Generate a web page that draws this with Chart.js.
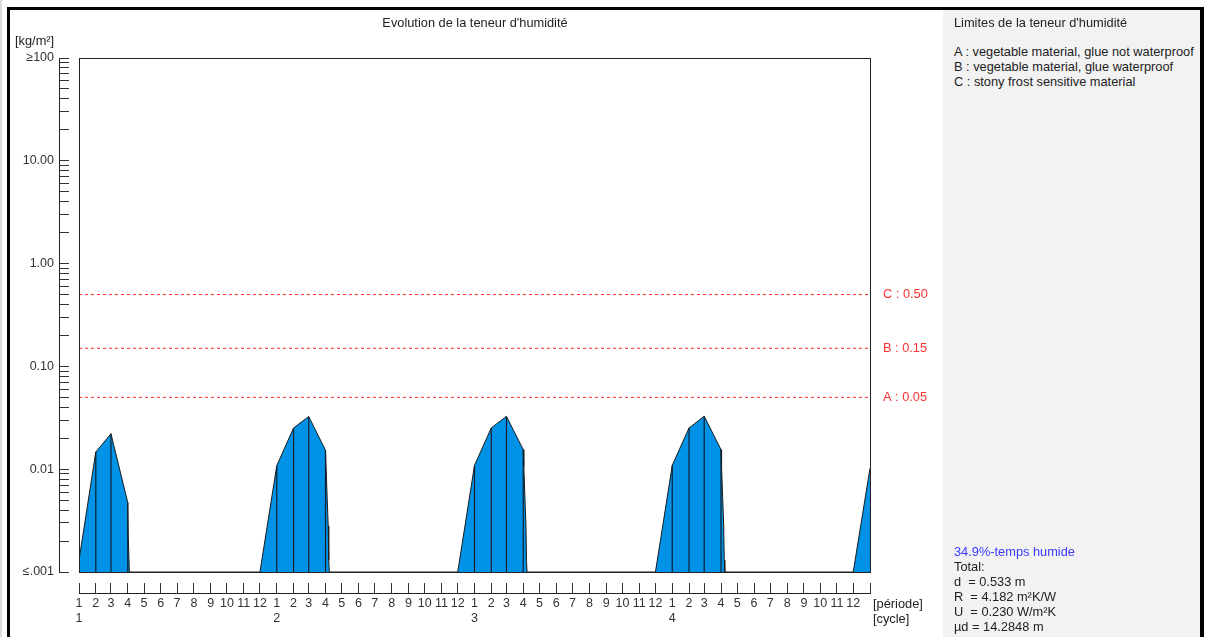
<!DOCTYPE html>
<html>
<head>
<meta charset="utf-8">
<script src="https://cdn.jsdelivr.net/npm/chart.js@4/dist/chart.umd.min.js"></script>
<style>
    body { margin: 0; background: #fff; }
    #wrap { position: relative; width: 1208px; height: 637px; overflow: hidden; background: #fff;
            font-family: 'Liberation Sans', Arial, sans-serif; font-size: 12.8px; color: #222; }
    #edge { position: absolute; left: 0; top: 0; width: 2px; height: 637px; background: #dcdcdc; }
    #frame { position: absolute; left: 7px; top: 7px; width: 1197px; height: 660px; box-sizing: border-box;
             border: 3px solid #000; border-right-width: 4px; }
    #panel { position: absolute; left: 943px; top: 10px; width: 257px; height: 627px; background: #f2f2f2; }
    #chartBox { position: absolute; left: 10px; top: 10px; width: 932px; height: 627px; }
    .txt { position: absolute; white-space: pre; line-height: 15px; }
    .blue { color: #3a3aff; }
</style>
</head>
<body>
<div id="wrap">
    <div id="edge"></div>
    <div id="panel"></div>
    <div id="frame"></div>
    <div id="chartBox"><canvas id="humidityChart" width="932" height="627"></canvas></div>
    <div class="txt" id="title" style="left:80px;width:790px;text-align:center;top:15px;">Evolution de la teneur d'humidité</div>
    <div class="txt" style="left:15px;top:33px;">[kg/m²]</div>
    <div class="txt" style="left:873px;top:596px;">[période]<br>[cycle]</div>
    <div class="txt" style="left:954px;top:15px;">Limites de la teneur d'humidité</div>
    <div class="txt" style="left:954px;top:44px;">A : vegetable material, glue not waterproof<br>B : vegetable material, glue waterproof<br>C : stony frost sensitive material</div>
    <div class="txt" style="left:954px;top:544px;"><span class="blue">34.9%-temps humide</span><br>Total:<br>d  = 0.533 m<br>R  = 4.182 m²K/W<br>U  = 0.230 W/m²K<br>µd = 14.2848 m</div>
</div>
<script>
// Axis data
const periodLabels = ['1', '2', '3', '4', '5', '6', '7', '8', '9', '10', '11', '12'];
const cycleLabels = ['1', '2', '3', '4'];
const monthStartDays = [0, 31, 59, 90, 120, 151, 181, 212, 243, 273, 304, 334];
const CYCLE_DAYS = 365;
const yLabelValues = [0.001, 0.01, 0.1, 1, 10, 100];
const yLabelTexts = ['≤.001', '0.01', '0.10', '1.00', '10.00', '≥100'];

// Moisture content [kg/m²] (day, value)
const moistureDays = [
    0, 31, 59, 90, 91, 93, 334,
    365, 396, 424, 455, 456, 458, 460, 461, 462, 699,
    730, 761, 789, 820, 821, 823, 825, 826, 827, 1064,
    1095, 1126, 1154, 1185, 1186, 1188, 1190, 1191, 1192, 1429,
    1460
];
const moistureValues = [
    0.0013, 0.0147, 0.0221, 0.00474, 0.0021, 0.001, 0.001,
    0.0108, 0.0252, 0.0325, 0.0153, 0.0106, 0.0054, 0.0028, 0.0013, 0.001, 0.001,
    0.0109, 0.0252, 0.0327, 0.0155, 0.0106, 0.0054, 0.0028, 0.0013, 0.001, 0.001,
    0.0109, 0.0252, 0.0327, 0.0155, 0.0106, 0.0054, 0.0028, 0.0013, 0.001, 0.001,
    0.0102
];

// Moisture limits
const limitNames = ['A', 'B', 'C'];
const limitValues = [0.05, 0.15, 0.50];

const FLOOR = 0.001;
const TOTAL_DAYS = CYCLE_DAYS * cycleLabels.length;
const FONT = '"Liberation Sans", Arial, sans-serif';

// Vertical marks at each period start where the area is above the floor
function buildPeriodMarks() {
    const marks = [];
    cycleLabels.forEach((c, ci) => {
        monthStartDays.forEach(d => {
            const day = ci * CYCLE_DAYS + d;
            const idx = moistureDays.indexOf(day);
            if (idx >= 0 && moistureValues[idx] > FLOOR) {
                marks.push({ x: day, y: FLOOR }, { x: day, y: moistureValues[idx] }, { x: day, y: null });
            }
        });
    });
    return marks;
}

// Frame, offset axis lines and limit labels
const framePlugin = {
    id: 'framePlugin',
    afterDatasetsDraw(chart) {
        const { ctx, chartArea: a, scales } = chart;
        ctx.save();
        ctx.strokeStyle = '#222';
        ctx.lineWidth = 1;
        ctx.strokeRect(Math.round(a.left) + 0.5, Math.round(a.top) + 0.5,
            Math.round(a.right - a.left), Math.round(a.bottom - a.top));
        ctx.beginPath();
        ctx.moveTo(Math.round(a.left) - 19.5, Math.round(a.top));
        ctx.lineTo(Math.round(a.left) - 19.5, Math.round(a.bottom) + 1);
        ctx.moveTo(Math.round(a.left), Math.round(a.bottom) + 21.5);
        ctx.lineTo(Math.round(a.right) + 1, Math.round(a.bottom) + 21.5);
        ctx.stroke();

        ctx.fillStyle = '#ff3030';
        ctx.font = '12.8px ' + FONT;
        ctx.textBaseline = 'middle';
        limitValues.forEach((v, i) => {
            const y = scales.y.getPixelForValue(v);
            ctx.fillText(limitNames[i] + ' : ' + v.toFixed(2), a.right + 13, y);
        });
        ctx.restore();
    }
};

function buildChart() {
    const datasets = [
        {
            data: moistureDays.map((d, i) => ({ x: d, y: moistureValues[i] })),
            borderColor: '#1a1a1a',
            borderWidth: 1,
            backgroundColor: '#0092E6',
            fill: 'start',
            pointRadius: 0,
            tension: 0,
            order: 10
        },
        {
            data: buildPeriodMarks(),
            borderColor: '#10202e',
            borderWidth: 1.2,
            fill: false,
            pointRadius: 0,
            spanGaps: false,
            order: 1
        }
    ];
    limitValues.forEach(v => {
        datasets.push({
            data: [{ x: 0, y: v }, { x: TOTAL_DAYS, y: v }],
            borderColor: '#ff2a2a',
            borderWidth: 1,
            borderDash: [3, 3],
            fill: false,
            pointRadius: 0,
            order: 1
        });
    });

    new Chart(document.getElementById('humidityChart').getContext('2d'), {
        type: 'line',
        data: { datasets },
        options: {
            responsive: false,
            animation: false,
            layout: { padding: { left: 10, top: 48, right: 72, bottom: 10 } },
            plugins: { legend: { display: false }, tooltip: { enabled: false } },
            scales: {
                x: {
                    type: 'linear',
                    min: 0,
                    max: TOTAL_DAYS,
                    afterFit: s => { s.height = 55; },
                    afterBuildTicks: s => {
                        const t = [];
                        cycleLabels.forEach((c, ci) => monthStartDays.forEach(d => t.push({ value: ci * CYCLE_DAYS + d })));
                        t.push({ value: TOTAL_DAYS });
                        s.ticks = t;
                    },
                    border: { display: false },
                    grid: {
                        drawOnChartArea: false,
                        tickLength: 21,
                        tickBorderDash: [0, 11, 10, 100],
                        tickColor: '#333',
                        tickWidth: 1
                    },
                    ticks: {
                        autoSkip: false,
                        maxRotation: 0,
                        minRotation: 0,
                        padding: 3,
                        color: '#333',
                        font: { family: FONT, size: 12.5, lineHeight: 1.2 },
                        callback: (v, i) => {
                            if (i >= periodLabels.length * cycleLabels.length) return '';
                            const p = i % periodLabels.length;
                            const c = Math.floor(i / periodLabels.length);
                            return p === 0 ? [periodLabels[p], cycleLabels[c]] : periodLabels[p];
                        }
                    }
                },
                y: {
                    type: 'logarithmic',
                    min: 0.001,
                    max: 100,
                    afterFit: s => { s.width = 59; },
                    afterBuildTicks: s => {
                        const t = [];
                        for (let e = -3; e < 2; e++) {
                            for (let m = 1; m < 10; m++) t.push({ value: m * Math.pow(10, e) });
                        }
                        t.push({ value: 100 });
                        s.ticks = t;
                    },
                    border: { display: false },
                    grid: {
                        drawOnChartArea: false,
                        tickLength: 20,
                        tickBorderDash: [10, 100],
                        tickColor: '#333',
                        tickWidth: 1
                    },
                    ticks: {
                        autoSkip: false,
                        padding: 5,
                        color: '#333',
                        font: { family: FONT, size: 12.5 },
                        callback: v => {
                            const idx = yLabelValues.findIndex(lv => Math.abs(Math.log10(lv) - Math.log10(v)) < 1e-6);
                            return idx >= 0 ? yLabelTexts[idx] : '';
                        }
                    }
                }
            }
        },
        plugins: [framePlugin]
    });
}

document.addEventListener('DOMContentLoaded', buildChart);
</script>
</body>
</html>
